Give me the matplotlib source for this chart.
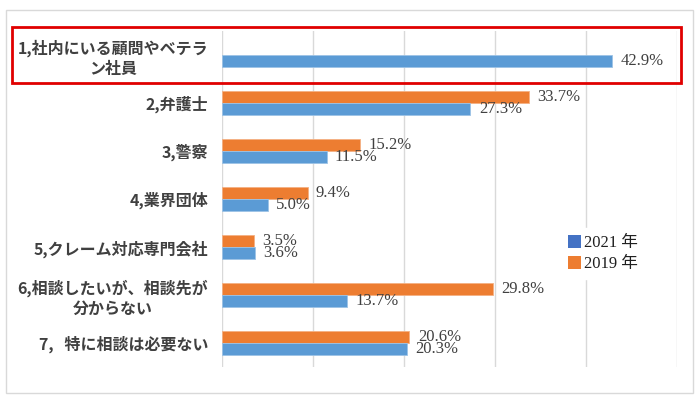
import numpy as np
import matplotlib
matplotlib.use('Agg')
import matplotlib.pyplot as plt
from matplotlib.patches import Rectangle, Patch

# Data
categories = [
    '1,社内にいる顧問やベテラ\nン社員',
    '2,弁護士',
    '3,警察',
    '4,業界団体',
    '5,クレーム対応専門会社',
    '6,相談したいが、相談先が\n分からない',
    '7,   特に相談は必要ない',
]
values_2021 = [42.9, 27.3, 11.5, 5.0, 3.6, 13.7, 20.3]
values_2019 = [np.nan, 33.7, 15.2, 9.4, 3.5, 29.8, 20.6]
series_names = ['2021 年', '2019 年']

blue = '#5B9BD5'
blue_legend = '#4472C4'
orange = '#ED7D31'
text_color = '#404040'
serif = ['Liberation Serif', 'Noto Sans CJK JP']

fig = plt.figure(figsize=(7, 3.98), dpi=100)
ax = fig.add_axes([222 / 700, 1 - 367 / 398, 455 / 700, 336 / 398])

y = np.arange(len(categories))
h = 0.25
bars19 = ax.barh(y - h / 2, values_2019, height=h, color=orange,
                 edgecolor='#F4B183', linewidth=0.6)
bars21 = ax.barh(y + h / 2, values_2021, height=h, color=blue,
                 edgecolor='#9DC3E6', linewidth=0.6)

def make_labels(vals):
    return ['' if np.isnan(v) else f'{v:.1f}%' for v in vals]

for bars, vals in ((bars19, values_2019), (bars21, values_2021)):
    ax.bar_label(bars, labels=make_labels(vals), padding=6,
                 fontsize=12, color=text_color, family='Liberation Serif')

ax.set_xlim(0, 50)
ax.set_ylim(len(categories) - 0.5, -0.5)
ax.set_xticks(np.arange(0, 51, 10))
ax.set_xticklabels([])
ax.xaxis.grid(True, color='#D9D9D9', linewidth=1)
ax.set_axisbelow(True)
ax.tick_params(axis='both', length=0)
ax.tick_params(axis='y', pad=10)
for s in ax.spines.values():
    s.set_visible(False)

ax.set_yticks(y)
ax.set_yticklabels(categories, fontsize=11.5, fontweight='bold', color=text_color,
                   family=['Noto Sans CJK JP', 'DejaVu Sans'],
                   multialignment='center', linespacing=1.25)

handles = [Patch(facecolor=blue_legend), Patch(facecolor=orange)]
leg = ax.legend(handles, series_names, loc='center left',
                bbox_to_anchor=(0.745, 0.337), frameon=True, framealpha=1,
                edgecolor='white', handlelength=0.8, handleheight=0.8,
                handletextpad=0.2, labelspacing=0.3, borderaxespad=0,
                prop={'family': serif, 'size': 12})
for t in leg.get_texts():
    t.set_color('#202020')

# outer frame and the red highlight box
fig.patches.append(Rectangle((6 / 700, 1 - 393 / 398), 687 / 700, 383 / 398,
                             transform=fig.transFigure, fill=False,
                             edgecolor='#D9D9D9', linewidth=1))
fig.patches.append(Rectangle((12 / 700, 1 - 83 / 398), 669 / 700, 56 / 398,
                             transform=fig.transFigure, fill=False,
                             edgecolor='#E00000', linewidth=2))

fig.savefig('out.png', dpi=100, facecolor='white')
